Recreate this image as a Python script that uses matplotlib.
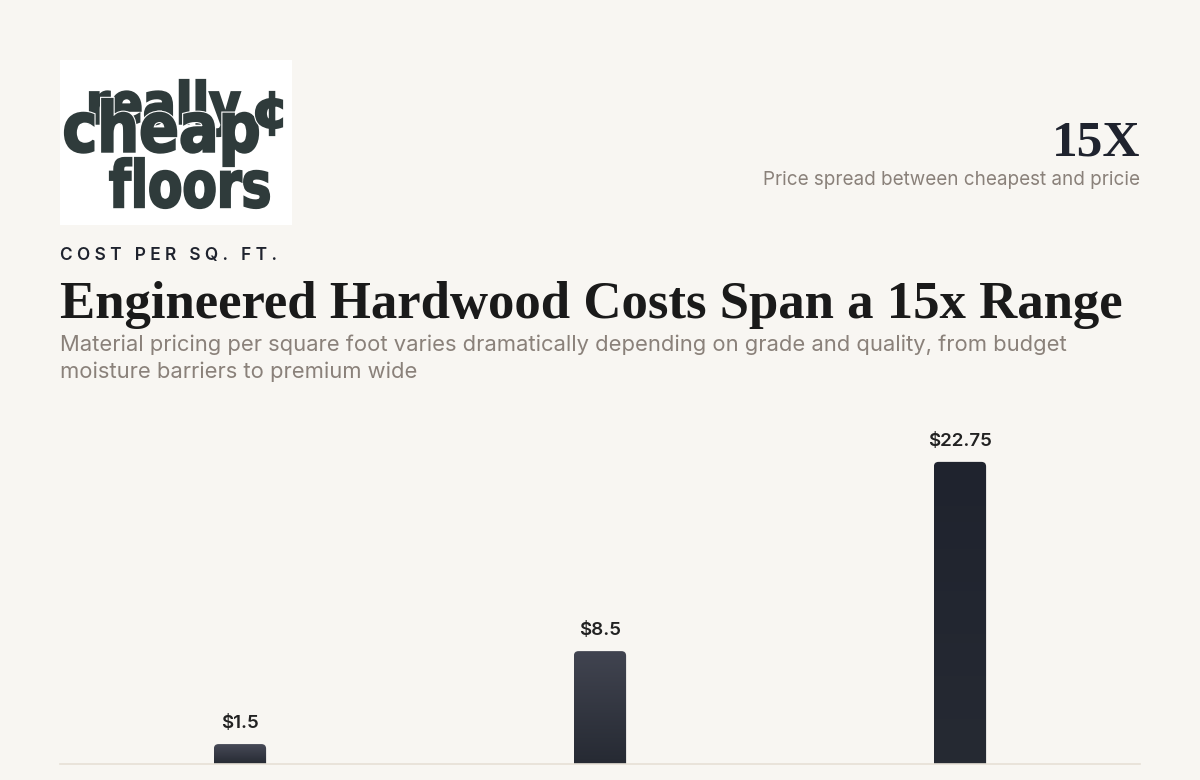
import matplotlib
matplotlib.use("Agg")
from matplotlib import pyplot as plt
from matplotlib.patches import FancyBboxPatch, Rectangle, PathPatch
from matplotlib.colors import LinearSegmentedColormap
from matplotlib.textpath import TextPath
from matplotlib.font_manager import FontProperties
from matplotlib.transforms import Affine2D
import matplotlib.patheffects as pe
import numpy as np

# data
categories = ["Budget Engineered", "Mid-Range Engineered", "Premium Wide-Plank"]
prices = [1.5, 8.5, 22.75]
price_labels = ["$1.5", "$8.5", "$22.75"]
spread_value = "15X"

W, H = 1200, 780
BG = "#f8f6f2"
INK = "#1f232e"
GREY = "#8a817a"
SANS = ["Inter", "DejaVu Sans"]
SERIF = ["Liberation Serif", "DejaVu Serif"]

top_colors = ["#474a57", "#414450", "#1f232e"]
bottom_color = "#262a33"


def fx(x):
    return x / W


def fy(y):
    return 1 - y / H


fig = plt.figure(figsize=(12, 7.8), dpi=100, facecolor=BG)

# overlay in pixel coords for the logo
over = fig.add_axes([0, 0, 1, 1], zorder=5)
over.set_xlim(0, W)
over.set_ylim(H, 0)
over.axis("off")
over.patch.set_alpha(0)

over.add_patch(Rectangle((60, 60), 232, 165, facecolor="white", edgecolor="none"))
logo_col = "#2f3b3b"
logo_prop = FontProperties(family="DejaVu Sans", weight="bold")


def logo_word(word, x0, x1, y0, y1):
    tp = TextPath((0, 0), word, size=100, prop=logo_prop)
    ext = tp.get_extents()
    sx = (x1 - x0) / ext.width
    sy = (y1 - y0) / ext.height
    tr = Affine2D().translate(-ext.x0, -ext.y1).scale(sx, -sy).translate(x0, y0)
    p = PathPatch(tr.transform_path(tp), facecolor=logo_col, edgecolor=logo_col, linewidth=1.6)
    p.set_path_effects([pe.Stroke(linewidth=3.2, foreground="white"), pe.Normal()])
    over.add_patch(p)


logo_word("really", 90, 240, 80, 136)
logo_word("cheap", 65, 258, 99, 166)
logo_word("¢", 256, 282, 92, 135)
logo_word("floors", 110, 269, 158, 208)

# headline stat
fig.text(fx(1140), fy(155), spread_value, family=SERIF, weight="bold", fontsize=37,
         color=INK, va="baseline", ha="right")
fig.text(fx(1140), fy(185), "Price spread between cheapest and pricie", family=SANS,
         fontsize=13.6, color=GREY, va="baseline", ha="right")

# eyebrow, title, subtitle
fig.text(fx(60), fy(260), "C O S T   P E R   S Q .   F T .", family=SANS, weight="semibold",
         fontsize=12.4, color=INK, va="baseline", ha="left")
fig.text(fx(60), fy(318), "Engineered Hardwood Costs Span a 15x Range", family=SERIF,
         weight="bold", fontsize=38, color="#1a1a1a", va="baseline", ha="left")
fig.text(fx(60), fy(351), "Material pricing per square foot varies dramatically depending on grade and quality, from budget",
         family=SANS, fontsize=15.8, color=GREY, va="baseline", ha="left")
fig.text(fx(60), fy(378), "moisture barriers to premium wide",
         family=SANS, fontsize=15.8, color=GREY, va="baseline", ha="left")

# chart
ax = fig.add_axes([fx(60), fy(764), 1080 / W, 332 / H])
ax.set_facecolor(BG)
for s in ["top", "right", "left"]:
    ax.spines[s].set_visible(False)
ax.spines["bottom"].set_color("#e6e0d6")
ax.spines["bottom"].set_linewidth(1.2)
ax.set_yticks([])
ax.set_xticks(range(len(categories)))
ax.set_xticklabels(categories, family=SANS, fontsize=11, color=GREY)
ax.tick_params(axis="x", length=0, pad=12)

bar_w = 0.145
for i, (v, lab) in enumerate(zip(prices, price_labels)):
    x0 = i - bar_w / 2
    # extend below zero so only the top corners show as rounded
    patch = FancyBboxPatch((x0, -2), bar_w, v + 2,
                           boxstyle="round,pad=0,rounding_size=0.013",
                           mutation_aspect=27, facecolor="none", edgecolor="none")
    ax.add_patch(patch)
    cmap = LinearSegmentedColormap.from_list("g%d" % i, [bottom_color, top_colors[i]])
    grad = np.linspace(0, 1, 100).reshape(-1, 1)
    im = ax.imshow(grad, cmap=cmap, origin="lower", aspect="auto",
                   extent=(x0, x0 + bar_w, 0, v), zorder=2)
    im.set_clip_path(patch)
    ax.text(i, v + 0.9, lab, ha="center", va="bottom", family=SANS,
            weight="semibold", fontsize=13.5, color="#222222")

ax.set_xlim(-0.5, len(prices) - 0.5)
ax.set_ylim(0, 25)

fig.savefig("out.png", dpi=100, facecolor=BG)
